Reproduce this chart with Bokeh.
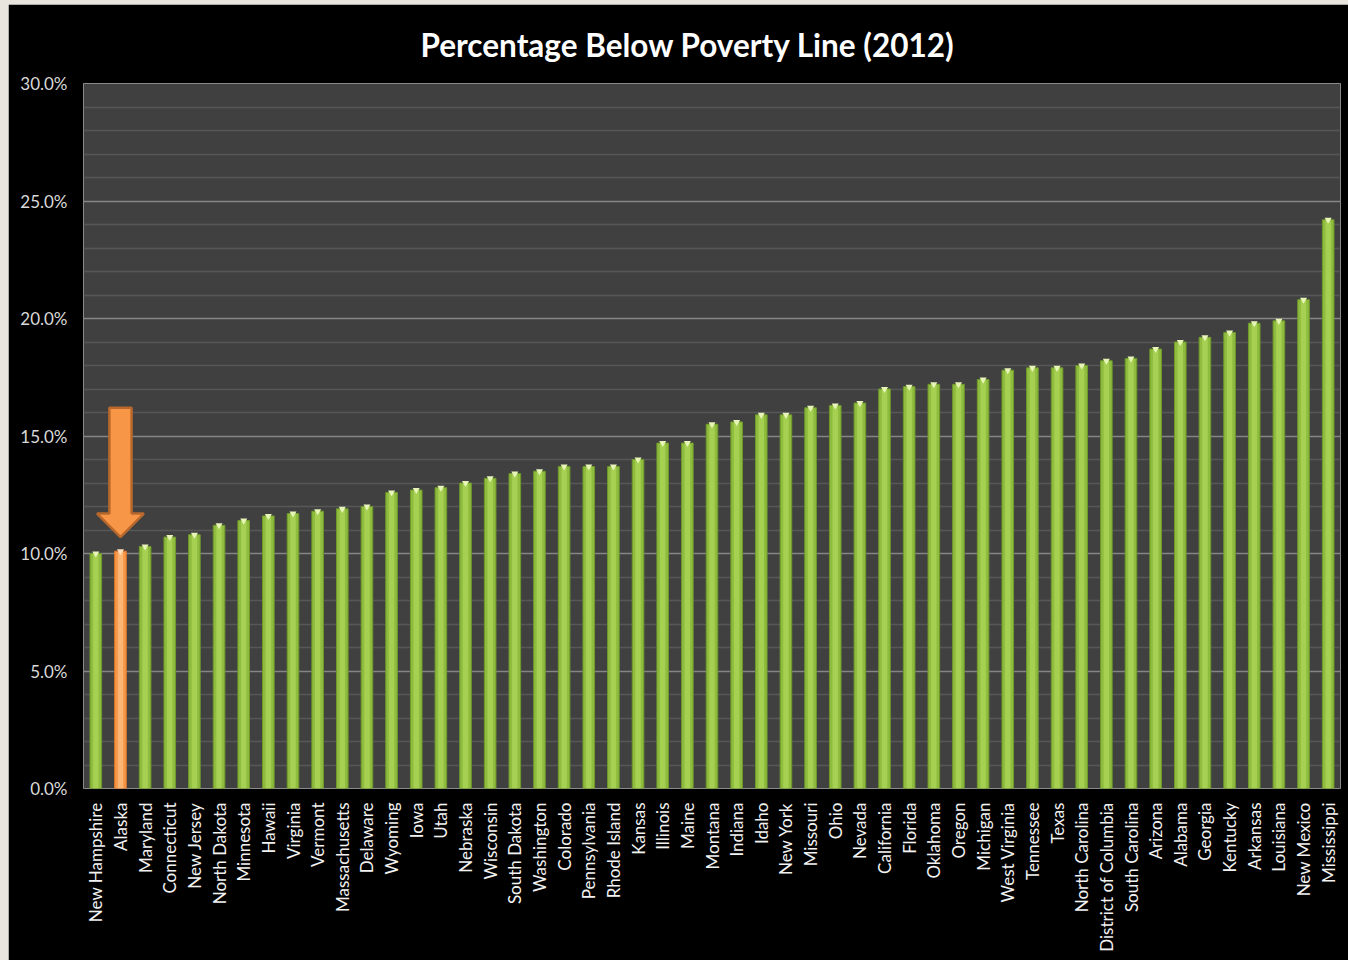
import math
from bokeh.plotting import figure
from bokeh.layouts import column
from bokeh.models import ColumnDataSource, Range1d, FixedTicker, PrintfTickFormatter
from bokeh.embed import file_html
from bokeh.resources import INLINE

# ---------------- data ----------------
states = ["New Hampshire", "Alaska", "Maryland", "Connecticut", "New Jersey", "North Dakota",
          "Minnesota", "Hawaii", "Virginia", "Vermont", "Massachusetts", "Delaware", "Wyoming",
          "Iowa", "Utah", "Nebraska", "Wisconsin", "South Dakota", "Washington", "Colorado",
          "Pennsylvania", "Rhode Island", "Kansas", "Illinois", "Maine", "Montana", "Indiana",
          "Idaho", "New York", "Missouri", "Ohio", "Nevada", "California", "Florida", "Oklahoma",
          "Oregon", "Michigan", "West Virginia", "Tennessee", "Texas", "North Carolina",
          "District of Columbia", "South Carolina", "Arizona", "Alabama", "Georgia", "Kentucky",
          "Arkansas", "Louisiana", "New Mexico", "Mississippi"]
poverty = [10.0, 10.1, 10.3, 10.7, 10.8, 11.2,
           11.4, 11.6, 11.7, 11.8, 11.9, 12.0, 12.6,
           12.7, 12.8, 13.0, 13.2, 13.4, 13.5, 13.7,
           13.7, 13.7, 14.0, 14.7, 14.7, 15.5, 15.6,
           15.9, 15.9, 16.2, 16.3, 16.4, 17.0, 17.1, 17.2,
           17.2, 17.4, 17.8, 17.9, 17.9, 18.0,
           18.2, 18.3, 18.7, 19.0, 19.2, 19.4,
           19.8, 19.9, 20.8, 24.2]
highlight = "Alaska"
y_ticks = [0, 5, 10, 15, 20, 25, 30]
title_text = "Percentage Below Poverty Line (2012)"

# arrow annotation (in % units) pointing at highlighted bar
arrow_top = 16.2
arrow_head_base = 11.7
arrow_tip = 10.7

# ---------------- styling ----------------
GREEN = "#8fbc3f"
GREEN_EDGE = "#6f9a2a"
GREEN_LIGHT = "#a6d052"
ORANGE = "#f79646"
ORANGE_EDGE = "#e2782c"
FONT = "Lato"

n = len(states)
xs = [i + 0.5 for i in range(n)]
fill = [ORANGE if s == highlight else GREEN for s in states]
edge = [ORANGE_EDGE if s == highlight else GREEN_EDGE for s in states]
light = ["#fbb676" if s == highlight else GREEN_LIGHT for s in states]
cap = ["#fde0c0" if s == highlight else "#e8f5b8" for s in states]

src = ColumnDataSource(dict(x=xs, top=poverty, fill=fill, edge=edge, light=light, cap=cap, name=states))

p = figure(width=1340, height=956, output_backend="svg", toolbar_location=None,
           x_range=Range1d(0, n), y_range=Range1d(0, y_ticks[-1]),
           min_border_left=75, min_border_right=8, min_border_top=79, min_border_bottom=172,
           title=title_text)
p.margin = (4, 0, 0, 8)

p.background_fill_color = "#404040"
p.border_fill_color = "black"
p.outline_line_color = "#8a8a8a"
p.outline_line_width = 1

p.title.text_font = FONT
p.title.text_font_size = "31.5px"
p.title.text_font_style = "bold"
p.title.text_color = "white"
p.title.text_line_height = 0.8
p.title.align = "left"
p.title.standoff = 39
p.title.offset = 337

# bars
p.vbar(x="x", top="top", width=0.47, bottom=0, source=src, fill_color="fill", line_color="edge", line_width=1)
p.vbar(x="x", top="top", width=0.22, bottom=0, source=src, fill_color="light", line_color=None)
p.scatter(x="x", y="top", source=src, marker="inverted_triangle", size=7, fill_color="cap",
          line_color=None)

# arrow pointing at highlighted bar
hx = xs[states.index(highlight)]
shaft = 0.45
head = 0.95
ax = [hx - shaft, hx + shaft, hx + shaft, hx + head, hx, hx - head, hx - shaft]
ay = [arrow_top, arrow_top, arrow_head_base, arrow_head_base, arrow_tip, arrow_head_base, arrow_head_base]
p.patch(ax, ay, fill_color=ORANGE, line_color="#b8682c", line_width=2.5)

# axes
p.xaxis.ticker = FixedTicker(ticks=xs)
p.xaxis.major_label_overrides = {x: s for x, s in zip(xs, states)}
p.xaxis.major_label_orientation = math.pi / 2
p.xaxis.major_label_text_font = FONT
p.xaxis.major_label_text_font_size = "17px"
p.xaxis.major_label_text_color = "#f2f2f2"
p.xaxis.axis_line_color = None
p.xaxis.major_tick_line_color = None
p.xaxis.minor_tick_line_color = None
p.xaxis.major_label_standoff = 8

p.yaxis.ticker = FixedTicker(ticks=y_ticks,
                             minor_ticks=[t for t in range(0, y_ticks[-1] + 1) if t % 5 != 0])
p.yaxis.formatter = PrintfTickFormatter(format="%.1f%%")
p.yaxis.major_label_text_font = FONT
p.yaxis.major_label_text_font_size = "17px"
p.yaxis.major_label_text_color = "#d9d9d9"
p.yaxis.axis_line_color = None
p.yaxis.major_tick_line_color = None
p.yaxis.minor_tick_line_color = None
p.yaxis.major_label_standoff = 10

p.xgrid.grid_line_color = None
p.ygrid.grid_line_color = "#858585"
p.ygrid.grid_line_width = 1.5
p.ygrid.minor_grid_line_color = "#575757"
p.ygrid.minor_grid_line_width = 1.5

page = column(p, styles={"background-color": "#e8e5de"})

open("out.html", "w").write(file_html(page, INLINE))
